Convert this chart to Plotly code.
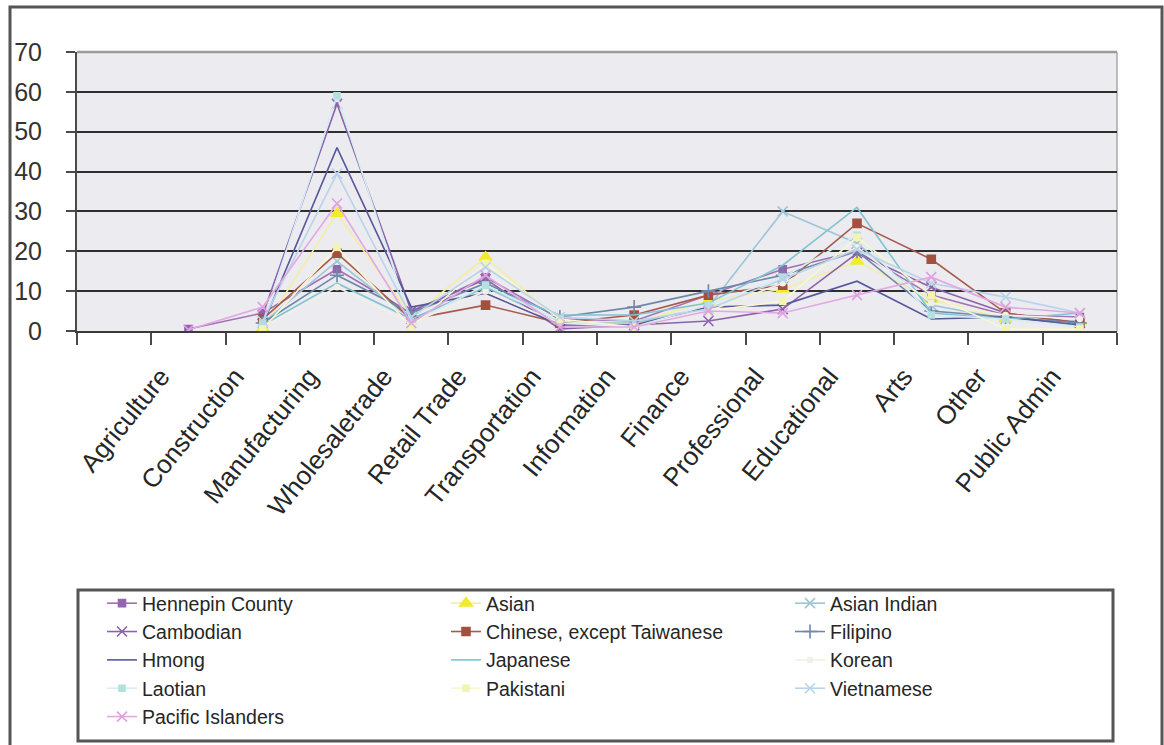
import plotly.graph_objects as go

# Industry categories (first slot on the axis is left empty, as in the source chart)
categories = ["Agriculture", "Construction", "Manufacturing", "Wholesaletrade", "Retail Trade",
              "Transportation", "Information", "Finance", "Professional", "Educational",
              "Arts", "Other", "Public Admin"]

hennepin = [0.5, 4.5, 15.5, 4.5, 13.5, 3, 2.5, 9, 15.5, 20, 9, 4, 3.5]
asian = [None, 0.5, 29.5, 3.5, 18.5, 2.5, 2, 7.5, 10.5, 17.5, 8, 3, 2.5]
asian_indian = [None, 2, 17.5, 3, 11, 2, 2, 6, 30, 22, 6.5, 3, 2.5]
cambodian = [None, 4, 57, 5, 13, 0.5, 1.5, 2.5, 5.5, 19.5, 11, 4.5, 2]
chinese = [None, 3, 19.5, 3, 6.5, 2, 4, 9, 11.5, 27, 18, 4.5, 2]
filipino = [None, 2, 14, 4.5, 12, 3.5, 6, 10, 14, 20, 5, 3.5, 2]
hmong = [None, 1.5, 46, 6, 9.5, 1.5, 1.5, 6, 6.5, 12.5, 3, 3.5, 1.5]
japanese = [None, 1.5, 12, 3, 11, 4, 4, 7, 16.5, 31, 4.5, 3, 4.5]
korean = [None, 1, 11, 2, 10, 2, 1, 5, 12, 21, 7, 4, 3]
laotian = [None, 2, 59, 2, 11.5, 2.5, 1, 6.5, 13.5, 24, 4, 3, 1]
pakistani = [None, 0.5, 21, 1, 17, 3, 1, 5, 7.5, 23.5, 9, 0.5, 0.5]
vietnamese = [None, 2.5, 39.5, 3.5, 16, 3.5, 2.5, 5.5, 13, 20.5, 12, 8.5, 4.5]
pacific = [0.3, 6, 32, 2, 14, 1, 1, 5, 4.5, 9, 13.5, 6, 4.5]

y_ticks = [0, 10, 20, 30, 40, 50, 60, 70]

# name, values, line colour, marker symbol, marker colour, marker size
series = [
    ("Hennepin County", hennepin, "#a072b2", "square", "#9466ae", 7),
    ("Asian", asian, "#f3eea0", "triangle-up", "#f2ea2c", 11),
    ("Asian Indian", asian_indian, "#9fc6d6", "x-thin", "#9fc6d6", 10),
    ("Cambodian", cambodian, "#8c62aa", "x-thin", "#8c62aa", 10),
    ("Chinese, except Taiwanese", chinese, "#a65a4c", "square", "#a4503f", 8),
    ("Filipino", filipino, "#6e88aa", "cross-thin", "#6e88aa", 10),
    ("Hmong", hmong, "#58589a", None, None, 0),
    ("Japanese", japanese, "#82c2d2", None, None, 0),
    ("Korean", korean, "#f1f0e6", "circle", "#f1f0e6", 5),
    ("Laotian", laotian, "#d6edf1", "square", "#b4e0e0", 6),
    ("Pakistani", pakistani, "#f7f7d2", "square", "#f2f4b4", 6),
    ("Vietnamese", vietnamese, "#b8d3ea", "x-thin", "#b8d3ea", 10),
    ("Pacific Islanders", pacific, "#e2a8e2", "x-thin", "#e0a0e0", 10),
]

x_pos = list(range(len(categories)))

fig = go.Figure()
for name, vals, lcol, sym, mcol, msize in series:
    if sym is None:
        mode = "lines"
        marker = None
    else:
        mode = "lines+markers"
        marker = dict(symbol=sym, color=mcol, size=msize,
                      line=dict(color=mcol, width=1.6))
    fig.add_trace(go.Scatter(
        x=x_pos, y=vals, name=name, mode=mode,
        line=dict(color=lcol, width=1.6),
        marker=marker, connectgaps=False,
    ))

n = len(categories)
# tick labels sit slightly left of each category centre
label_pos = [i - 0.37 for i in x_pos]
boundaries = [i - 0.5 for i in range(-1, n + 1)]

fig.update_xaxes(
    range=[-1.5, n - 0.5],
    tickmode="array", tickvals=label_pos, ticktext=categories,
    tickangle=-51, ticks="", ticklabelstandoff=18,
    tickfont=dict(family="Liberation Sans, Arial, sans-serif", size=26, color="#262626"),
    showline=True, linecolor="#3a3a3a", linewidth=2,
    showgrid=False, zeroline=False,
    minor=dict(tickmode="array", tickvals=boundaries, ticks="outside",
               ticklen=12, tickwidth=2, tickcolor="#4a4a4a", showgrid=False),
)
fig.update_yaxes(
    range=[0, 70], tickmode="array", tickvals=y_ticks,
    ticks="outside", ticklen=9, tickwidth=2, tickcolor="#4a4a4a",
    ticklabelstandoff=19,
    tickfont=dict(family="Liberation Sans, Arial, sans-serif", size=25, color="#333333"),
    showline=True, linecolor="#4a4a4a", linewidth=2,
    showgrid=True, gridcolor="#2e2e2e", gridwidth=1.6, zeroline=False,
)

L, R, T, B = 77, 47, 52, 414
W, H = 1164, 745
pw, ph = W - L - R, H - T - B


def px_x(p):
    return (p - L) / pw


def px_y(p):
    return (H - B - p) / ph


shapes = [
    # light top and right edges of the plot area
    dict(type="line", xref="paper", yref="paper", x0=0, x1=1, y0=1, y1=1,
         line=dict(color="#9c9c9c", width=2.5)),
    dict(type="line", xref="paper", yref="paper", x0=1, x1=1, y0=0, y1=1,
         line=dict(color="#a8a8a8", width=1.5), layer="below"),
    # legend frame
    dict(type="rect", xref="paper", yref="paper",
         x0=px_x(78), x1=px_x(1113), y0=px_y(741), y1=px_y(590),
         line=dict(color="#555555", width=3), fillcolor="rgba(0,0,0,0)"),
    # outer chart frame
    dict(type="rect", xref="paper", yref="paper",
         x0=px_x(10), x1=px_x(1162), y0=px_y(752), y1=px_y(7),
         line=dict(color="#555555", width=3), fillcolor="rgba(0,0,0,0)"),
]

fig.update_layout(
    width=W, height=H,
    margin=dict(l=L, r=R, t=T, b=B, autoexpand=False),
    paper_bgcolor="white", plot_bgcolor="#ebebf0",
    shapes=shapes,
    showlegend=True,
    legend=dict(
        orientation="h", x=px_x(102), xanchor="left", y=px_y(584), yanchor="top",
        entrywidth=299, entrywidthmode="pixels",
        font=dict(family="Liberation Sans, Arial, sans-serif", size=19.5, color="#262626"),
        bgcolor="rgba(0,0,0,0)", borderwidth=0, traceorder="normal",
    ),
)

fig.write_html("out.html")
